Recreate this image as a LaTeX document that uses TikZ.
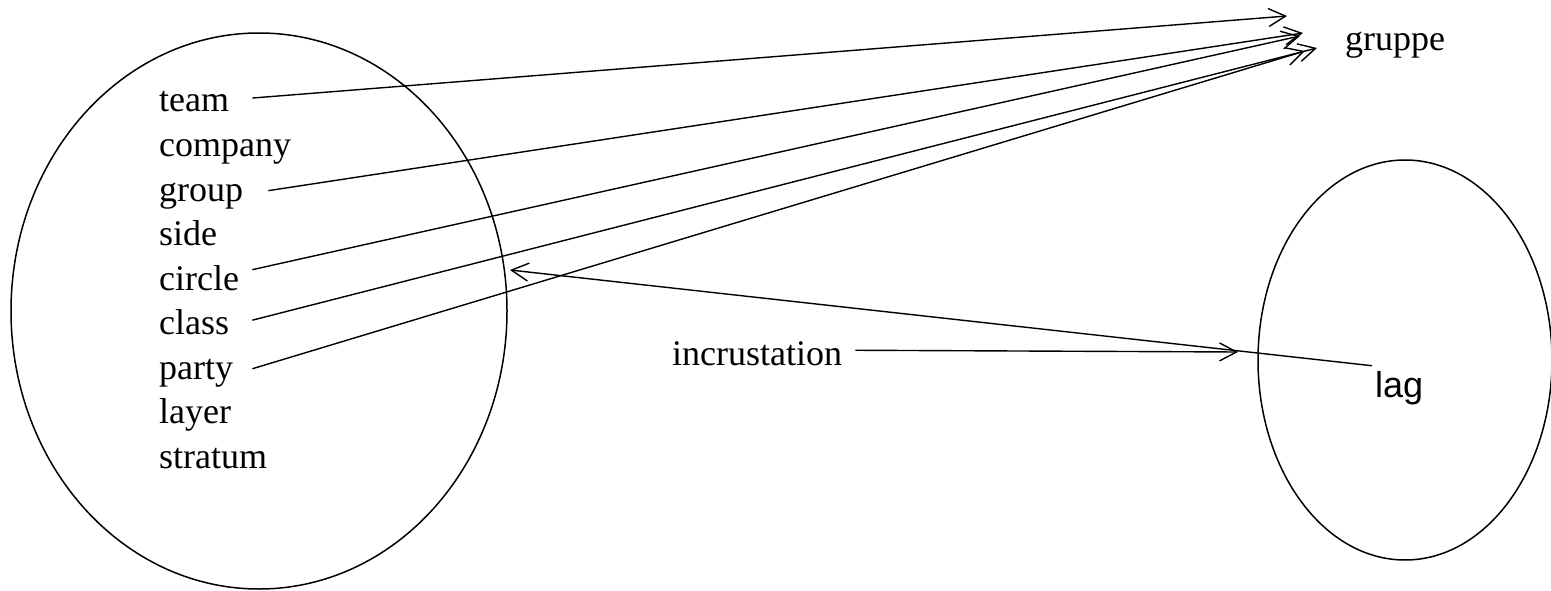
\documentclass[tikz,border=0pt]{standalone}
\usepackage{fontspec}
\setmainfont{Liberation Serif}
\newfontfamily\lagfont{Liberation Sans}
\usetikzlibrary{arrows.meta,shapes.geometric}
\begin{document}
\begin{tikzpicture}[x=1pt,y=-1pt,
  word/.style={inner sep=0pt,anchor=base west,font=\fontsize{36}{43}\selectfont},
  conn/.style={line width=1.4pt,-{Straight Barb[length=17pt,width=18pt,line width=1.4pt]}},
  ring/.style={ellipse,draw,line width=1.5pt,inner sep=0pt}]
\useasboundingbox (0,0) rectangle (1551,591);
% ellipses
\node[ring,minimum width=496pt,minimum height=556pt] (leftset) at (259,311) {};
\node[ring,minimum width=294pt,minimum height=400pt] (rightset) at (1405,360) {};
% words
\node[word] (team)    at (159,112) {team};
\node[word] (company) at (159,156.5) {company};
\node[word] (group)   at (159,201) {group};
\node[word] (side)    at (159,245.5) {side};
\node[word] (circle)  at (159,290) {circle};
\node[word] (class)   at (159,334.5) {class};
\node[word] (party)   at (159,379) {party};
\node[word] (layer)   at (159,423.5) {layer};
\node[word] (stratum) at (159,468) {stratum};
\node[word] (gruppe)  at (1345,51) {gruppe};
\node[word] (incr)    at (672,365) {incrustation};
\node[word,font=\lagfont\fontsize{36}{43}\selectfont] (lag) at (1375,397) {lag};
% arrow tips
\coordinate (t1) at (1287,16);
\coordinate (t2) at (1303,33);
\coordinate (t3) at (1300,36);
\coordinate (t4) at (1317,48);
\coordinate (t5) at (1305,51);
\coordinate (tl) at (510,270);
\coordinate (ti) at (1238,352);
% connectors
\draw[conn] ([xshift=23pt,yshift=4pt]team.east) -- (t1);
\draw[conn] ([xshift=25pt,yshift=5pt]group.east) -- (t2);
\draw[conn] ([xshift=13pt,yshift=8pt]circle.east) -- (t3);
\draw[conn] ([xshift=23pt,yshift=2pt]class.east) -- (t4);
\draw[conn] ([xshift=19pt,yshift=4pt]party.east) -- (t5);
\draw[conn] ([xshift=13pt,yshift=3pt]incr.east) -- (ti);
\draw[conn] ([xshift=-3pt,yshift=5pt]lag.north west) -- (tl);
\end{tikzpicture}
\end{document}
